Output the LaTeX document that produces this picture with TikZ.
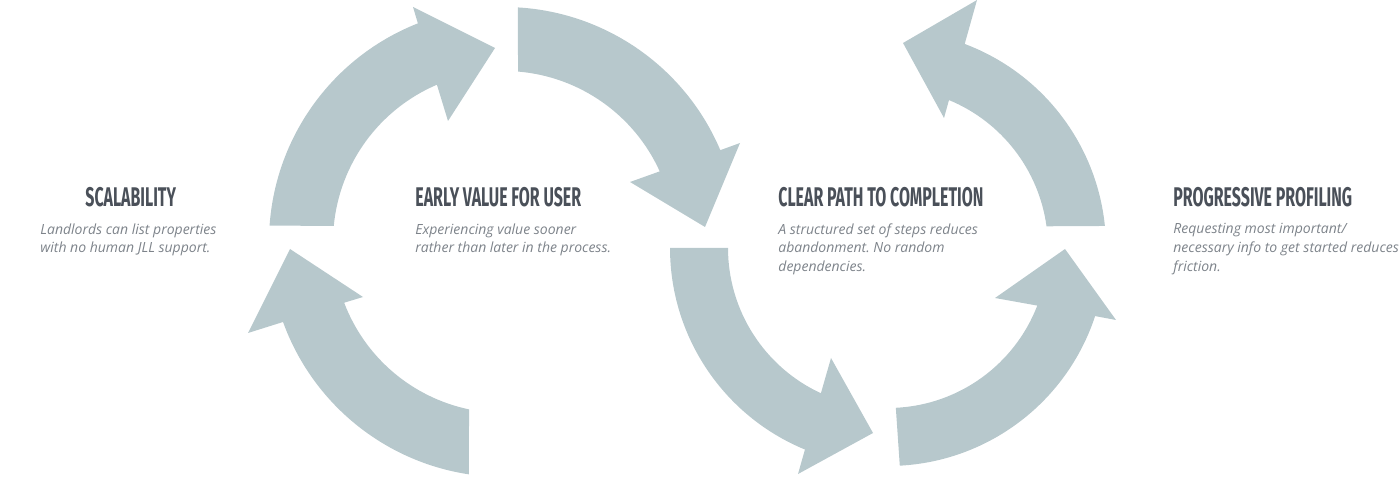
\documentclass[tikz,border=0pt]{standalone}
\usepackage{fontspec}
\setmainfont{Open Sans}
\newfontfamily\headfont{Fira Sans}[FakeStretch=0.59]
\usetikzlibrary{calc}
\definecolor{arrowfill}{RGB}{183,200,204}
\definecolor{headgray}{RGB}{74,80,89}
\definecolor{bodygray}{RGB}{125,131,138}
\tikzset{
  looparrow/.style={fill=arrowfill},
  headline/.style={font=\headfont\bfseries\fontsize{13.5}{15}\selectfont, text=headgray, anchor=base west, inner sep=0pt},
  blurb/.style={font=\itshape\frenchspacing\fontsize{7}{9.4}\selectfont, text=bodygray, anchor=north west, align=left, inner sep=0pt}
}
\begin{document}
\begin{tikzpicture}[x=0.5pt,y=0.5pt]
        %--- Canvas ---
        \useasboundingbox (0,0) rectangle (1400,476);
        \clip (0,0) rectangle (1400,476);
        %--- Arguments ----
        \coordinate (lc) at (504,234); % centre, left loop
        \coordinate (rc) at (888,228); % centre, right loop
        \def \lro {235} % outer radius, left loop
        \def \lri {171} % inner radius, left loop
        \def \rro {218} % outer radius, right loop
        \def \rri {160} % inner radius, right loop
        %--- Left loop ---
        % top left
        \fill [looparrow] ($(lc)+(176:\lro)$) arc [start angle=176, end angle=111.5, radius=\lro]
            -- (413,469) -- (495,428) -- (448,355)
            -- ($(lc)+(113.1:\lri)$) arc [start angle=113.1, end angle=174.6, radius=\lri] -- cycle;
        % top right
        \fill [looparrow] ($(lc)+(86.6:\lro)$) arc [start angle=86.6, end angle=23, radius=\lro]
            -- (740,333) -- (705,249) -- (630,294)
            -- ($(lc)+(24.4:\lri)$) arc [start angle=24.4, end angle=85.3, radius=\lri] -- cycle;
        % bottom left
        \fill [looparrow] ($(lc)+(261.4:\lro)$) arc [start angle=261.4, end angle=199.9, radius=\lro]
            -- (248,143) -- (290,227) -- (363,179)
            -- ($(lc)+(200.8:\lri)$) arc [start angle=200.8, end angle=258.2, radius=\lri] -- cycle;
        %--- Right loop ---
        % left
        \fill [looparrow] ($(rc)+(180:\rro)$) arc [start angle=180, end angle=247.6, radius=\rro]
            -- (798,2) -- (873,43) -- (831,118)
            -- ($(rc)+(245.2:\rri)$) arc [start angle=245.2, end angle=180, radius=\rri] -- cycle;
        % bottom right
        \fill [looparrow] ($(rc)+(273.1:\rro)$) arc [start angle=273.1, end angle=341.8, radius=\rro]
            -- (1116,156) -- (1065,227) -- (995,178)
            -- ($(rc)+(338.9:\rri)$) arc [start angle=338.9, end angle=272.8, radius=\rri] -- cycle;
        % top right
        \fill [looparrow] ($(rc)+(5.8:\rro)$) arc [start angle=5.8, end angle=69.4, radius=\rro]
            -- (977,476) -- (903,433) -- (944,358)
            -- ($(rc)+(67.6:\rri)$) arc [start angle=67.6, end angle=7.8, radius=\rri] -- cycle;
        %--- Labels ---
        \node [headline] (scaltitle) at (85,269) {SCALABILITY};
        \node [blurb] (scaltext) at (40,253) {Landlords can list properties\\with no human JLL support.};
        \node [headline] (earlytitle) at (415,269) {EARLY VALUE FOR USER};
        \node [blurb] (earlytext) at (415,253) {Experiencing value sooner\\rather than later in the process.};
        \node [headline] (cleartitle) at (778,269) {CLEAR PATH TO COMPLETION};
        \node [blurb] (cleartext) at (778,253) {A structured set of steps reduces\\abandonment. No random\\dependencies.};
        \node [headline] (progtitle) at (1173,269) {PROGRESSIVE PROFILING};
        \node [blurb] (progtext) at (1173,253) {Requesting most important/\\necessary info to get started reduces\\friction.};
\end{tikzpicture}
\end{document}
